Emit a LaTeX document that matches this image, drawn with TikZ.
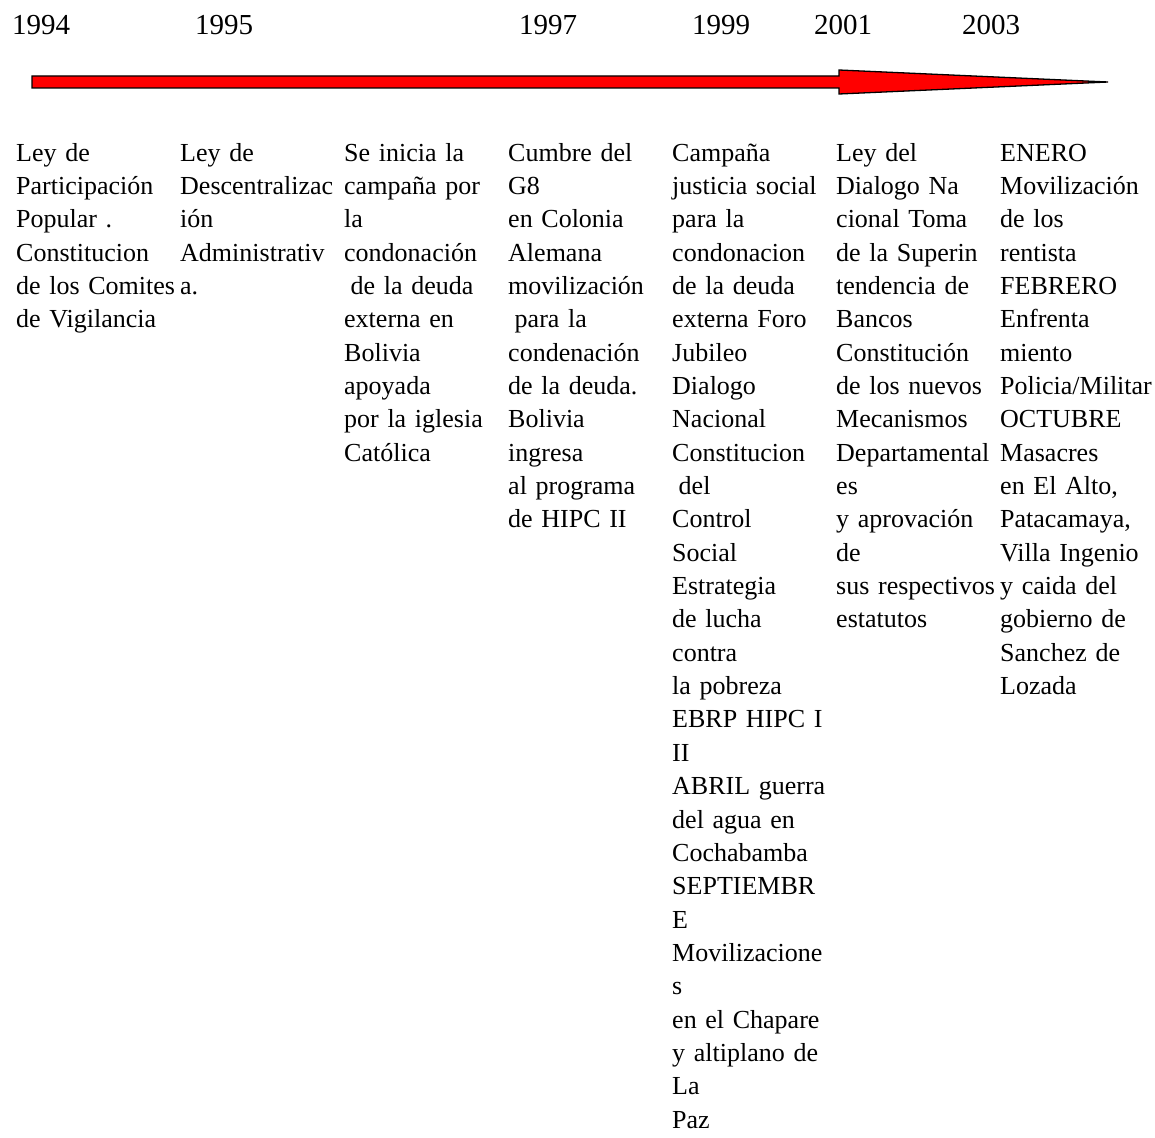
\documentclass[tikz,border=0pt]{standalone}
\usepackage{fontspec}
\setmainfont{Liberation Serif}

\tikzset{
  yearlabel/.style={anchor=base west, inner sep=0pt, font=\fontsize{29}{34}\selectfont},
  eventtext/.style={anchor=base west, inner sep=0pt, text width=168pt, align=left,
                    font=\fontsize{26}{33.35}\selectfont},
}

\begin{document}
\begin{tikzpicture}[x=1pt,y=1pt]

\useasboundingbox (0,0) rectangle (1155,-1137);

% years
\foreach \yr/\xx in {1994/12, 1995/195, 1997/519, 1999/692, 2001/814, 2003/962}{%
  \node[yearlabel] (y\yr) at (\xx,-35) {\yr};
}

% time arrow
\draw[fill=red, line width=1.3pt, line join=miter]
  (32,-76) -- (839,-76) -- (839,-70) -- (1108,-82) -- (839,-94) -- (839,-88) -- (32,-88) -- cycle;

% events
\node[eventtext] (e1994) at (16,-161) {Ley de\\ Participación\\ Popular .\\ Constitucion\\ de los Comites\\ de Vigilancia};

\node[eventtext] (e1995) at (180,-161) {Ley de\\ Descentralizac\\ ión\\ Administrativ\\ a.};

\node[eventtext] (e1996) at (344,-161) {Se inicia la\\ campaña por\\ la\\ condonación\\ \hspace*{0.25em}de la deuda\\ externa en\\ Bolivia\\ apoyada\\ por la iglesia\\ Católica};

\node[eventtext] (e1997) at (508,-161) {Cumbre del\\ G8\\ en Colonia\\ Alemana\\ movilización\\ \hspace*{0.25em}para la\\ condenación\\ de la deuda.\\ Bolivia\\ ingresa\\ al programa\\ de HIPC II};

\node[eventtext] (e1999) at (672,-161) {Campaña\\ justicia social\\ para la\\ condonacion\\ de la deuda\\ externa Foro\\ Jubileo\\ Dialogo\\ Nacional\\ Constitucion\\ \hspace*{0.25em}del\\ Control\\ Social\\ Estrategia\\ de lucha\\ contra\\ la pobreza\\ EBRP HIPC I\\ II\\ ABRIL guerra\\ del agua en\\ Cochabamba\\ SEPTIEMBR\\ E\\ Movilizacione\\ s\\ en el Chapare\\ y altiplano de\\ La\\ Paz};

\node[eventtext] (e2001) at (836,-161) {Ley del\\ Dialogo Na\\ cional Toma\\ de la Superin\\ tendencia de\\ Bancos\\ Constitución\\ de los nuevos\\ Mecanismos\\ Departamental\\ es\\ y aprovación\\ de\\ sus respectivos\\ estatutos};

\node[eventtext] (e2003) at (1000,-161) {ENERO\\ Movilización\\ de los\\ rentista\\ FEBRERO\\ Enfrenta\\ miento\\ Policia/Militar\\ OCTUBRE\\ Masacres\\ en El Alto,\\ Patacamaya,\\ Villa Ingenio\\ y caida del\\ gobierno de\\ Sanchez de\\ Lozada};

\end{tikzpicture}
\end{document}
